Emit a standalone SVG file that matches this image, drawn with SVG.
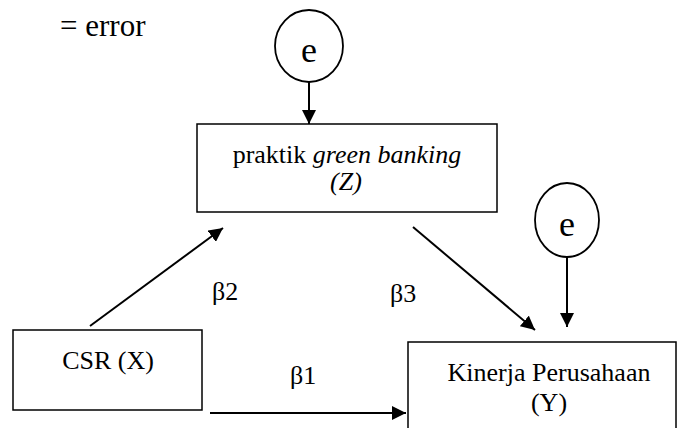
<svg xmlns="http://www.w3.org/2000/svg" width="679" height="428" viewBox="0 0 679 428" font-family="'Liberation Serif', 'Times New Roman', Times, serif">
<style>
.t{font-size:26px;text-anchor:middle;}
.box{fill:#fff;stroke:#000;stroke-width:1.5;}
.circ{fill:#fff;stroke:#000;stroke-width:1.8;}
</style>
<defs>
<marker id="ahb" viewBox="0 0 10 10" refX="10" refY="5" markerWidth="14" markerHeight="14" markerUnits="userSpaceOnUse" orient="auto">
<path d="M0,0 L10,5 L0,10 z" fill="#000"/>
</marker>
</defs>
<rect width="679" height="428" fill="#fff"/>
<text x="60" y="36" font-size="31">= error</text>
<g id="connectors">
<line x1="309" y1="82" x2="309" y2="124" stroke="#000" stroke-width="2" marker-end="url(#ahb)"/>
<line x1="567" y1="257" x2="567" y2="327" stroke="#000" stroke-width="2" marker-end="url(#ahb)"/>
<line x1="413" y1="227" x2="535" y2="330" stroke="#000" stroke-width="2" marker-end="url(#ahb)"/>
<line x1="90" y1="326" x2="223" y2="228" stroke="#000" stroke-width="2" marker-end="url(#ahb)"/>
<line x1="210" y1="413" x2="406" y2="413" stroke="#000" stroke-width="2" marker-end="url(#ahb)"/>
<text x="212" y="300" font-size="26">β2</text>
<text x="390" y="302" font-size="26">β3</text>
<text x="290" y="384" font-size="26">β1</text>
</g>
<g id="e1">
<ellipse class="circ" cx="309" cy="46" rx="34" ry="36"/>
<text class="t" x="309" y="62" style="font-size:36px">e</text>
</g>
<g id="e2">
<ellipse class="circ" cx="567" cy="220" rx="32" ry="37"/>
<text class="t" x="567" y="236" style="font-size:36px">e</text>
</g>
<g id="Z">
<rect class="box" x="197" y="124" width="300" height="88"/>
<text class="t" x="347" y="163">praktik <tspan font-style="italic">green banking</tspan></text>
<text class="t" x="346" y="190" font-style="italic">(Z)</text>
</g>
<g id="X">
<rect class="box" x="13" y="330" width="189" height="80"/>
<text class="t" x="108" y="369">CSR (X)</text>
</g>
<g id="Y">
<rect class="box" x="408" y="342" width="268" height="90"/>
<text class="t" x="549" y="381">Kinerja Perusahaan</text>
<text class="t" x="549" y="411">(Y)</text>
</g>
</svg>
